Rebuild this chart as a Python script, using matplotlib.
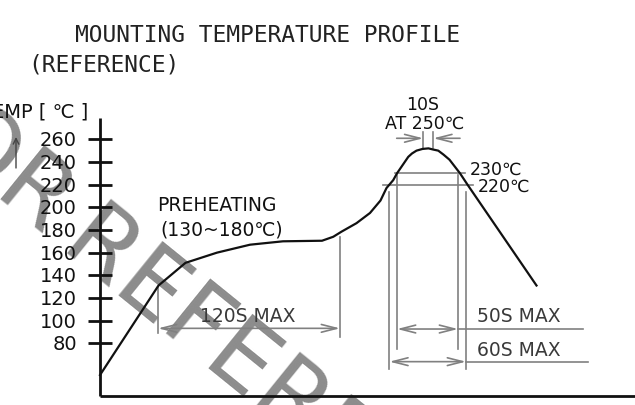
import matplotlib
matplotlib.use("Agg")
import matplotlib.pyplot as plt
from matplotlib import font_manager as fm

# ---------------- data ----------------
time_s = [0, 39, 57, 78, 100, 122, 148, 155.5, 161, 171, 180, 187, 191, 195.5, 198,
          205.5, 208, 211, 215, 219, 222, 225.5, 229, 233, 240, 245, 291]
temp_c = [52, 131, 151, 160, 167, 170, 170.5, 174, 178.5, 186, 195, 206, 217, 224, 230,
          244.5, 247.5, 250, 251.5, 252, 251, 250, 246.5, 242, 230, 220, 131]

y_ticks = [80, 100, 120, 140, 160, 180, 200, 220, 240, 260]
y_tick_labels = [str(v) for v in y_ticks]

preheat_t = [38.7, 160]          # 120S MAX window
above230_t = [198, 238.7]        # 50S MAX window
above220_t = [192.9, 244]        # 60S MAX window
peak_t = [215.5, 222.2]          # 10S at 250C
level_230 = 230
level_220 = 220

# ---------------- fonts ----------------
avail = {f.name for f in fm.fontManager.ttflist}
def pick(*names):
    for n in names:
        if n in avail:
            return n
    return "DejaVu Sans"
mono = pick("DejaVu Sans Mono", "Liberation Mono")
main = "DejaVu Sans"

# ---------------- figure ----------------
W, H = 635, 405
fig = plt.figure(figsize=(W / 100, H / 100), dpi=100)
ax = fig.add_axes([0, 0, 1, 1])
ax.set_axis_off()
PX_S = 1.5          # pixels per second
PX_C = 1.1333       # pixels per degree
x0_px, y80_px = 100, 343.3
ax.set_xlim(-x0_px / PX_S, (W - x0_px) / PX_S)
ax.set_ylim(80 - (H - y80_px) / PX_C, 80 + y80_px / PX_C)

DIM = "#808080"
DTXT = "#3a3a3a"
BLK = "#111111"

# watermark
ax.text(213 / W, 1 - 338 / H, "FOR\u2009REFERENCE", transform=ax.transAxes, rotation=-39,
        ha="center", va="center", fontsize=69, color="#8c8c8c", family=main, zorder=0.5)

# axes lines
T_bot, T_top, t_right = 33.5, 278.8, (W - x0_px) / PX_S
ax.plot([0, 0], [T_bot, T_top], color=BLK, lw=2, zorder=3, solid_capstyle="butt")
ax.plot([0, t_right], [T_bot, T_bot], color=BLK, lw=2, zorder=3, solid_capstyle="butt")
for v, lab in zip(y_ticks, y_tick_labels):
    ax.plot([-8, 8], [v, v], color=BLK, lw=2, zorder=3, solid_capstyle="butt")
    ax.text(-15.5, v - 6.2, lab, ha="right", va="baseline", fontsize=14,
            family=main, color=BLK, zorder=4)

ax.text(-8, 80 + (y80_px - 118) / PX_C, "TEMP [ ℃ ]", ha="right", va="baseline",
        fontsize=14, family=main, color=BLK, zorder=4)
# small arrow at top-left
ax.annotate("", xy=(-56, 80 + (y80_px - 137) / PX_C), xytext=(-56, 80 + (y80_px - 168) / PX_C),
            arrowprops=dict(arrowstyle="->", color="#444444", lw=1.0,
                            shrinkA=0, shrinkB=0, mutation_scale=10), zorder=3)

# profile curve
ax.plot(time_s, temp_c, color=BLK, lw=1.6, zorder=3, solid_joinstyle="round")

def vline(t, t1, t2):
    ax.plot([t, t], [t1, t2], color=DIM, lw=1.2, zorder=2)

def hline(y, a, b, c=DIM):
    ax.plot([a, b], [y, y], color=c, lw=1.2, zorder=2)

def dim(a, b, y, style="<->"):
    ax.annotate("", xy=(b, y), xytext=(a, y),
                arrowprops=dict(arrowstyle=f"{style},head_length=1.1,head_width=0.28",
                                color=DIM, lw=1.2, shrinkA=0, shrinkB=0,
                                mutation_scale=10), zorder=2)

# preheat dimension
vline(preheat_t[0], 130, 89)
vline(preheat_t[1], 173.5, 85.6)
dim(preheat_t[0], preheat_t[1], 93.2)
ax.text(66.7, 99.1, "120S MAX", ha="left", va="baseline", fontsize=13.5, family=main, color=DTXT, zorder=4)

# 230 / 220 levels
hline(level_230, 196.7, 243.3)
hline(level_220, 188.9, 248.7)
ax.text(246.7, 228.5, "230℃", ha="left", va="baseline", fontsize=12.5, family=main, color=BLK, zorder=4)
ax.text(252, 213.8, "220℃", ha="left", va="baseline", fontsize=12.5, family=main, color=BLK, zorder=4)

vline(above230_t[0], 228.5, 75)
vline(above230_t[1], 228.5, 75)
vline(above220_t[0], 213.8, 57.3)
vline(above220_t[1], 213.8, 57.3)
dim(above230_t[0], above230_t[1], 92.6)
hline(92.6, above230_t[1], 322)
dim(above220_t[0], above220_t[1], 63.8)
hline(63.8, above220_t[1], 325.3)
ax.text(251.3, 98.8, "50S MAX", ha="left", va="baseline", fontsize=13.5, family=main, color=DTXT, zorder=4)
ax.text(251.3, 69.1, "60S MAX", ha="left", va="baseline", fontsize=13.5, family=main, color=DTXT, zorder=4)

# peak 10S
vline(peak_t[0], 252.6, 266.7)
vline(peak_t[1], 252.6, 266.7)
dim(197.8, peak_t[0], 260.9, style="->")
dim(240, peak_t[1], 260.9, style="->")
ax.text(215, 285.9, "10S", ha="center", va="baseline", fontsize=12.5, family=main, color=BLK, zorder=4)
ax.text(216.7, 269.7, "AT 250℃", ha="center", va="baseline", fontsize=12.5, family=main, color=BLK, zorder=4)

# preheating label
ax.text(38, 197, "PREHEATING", ha="left", va="baseline", fontsize=13.5, family=main, color=BLK, zorder=4)
ax.text(40, 175.1, "(130~180℃)", ha="left", va="baseline", fontsize=13.5, family=main, color=BLK, zorder=4)

# title
fig.text(75 / W, 1 - 42 / H, "MOUNTING TEMPERATURE PROFILE", ha="left", va="baseline",
         fontsize=16.5, family=mono, color="#222222")
fig.text(28 / W, 1 - 71 / H, "(REFERENCE)", ha="left", va="baseline",
         fontsize=16.5, family=mono, color="#222222")

fig.savefig("out.png", dpi=100)
